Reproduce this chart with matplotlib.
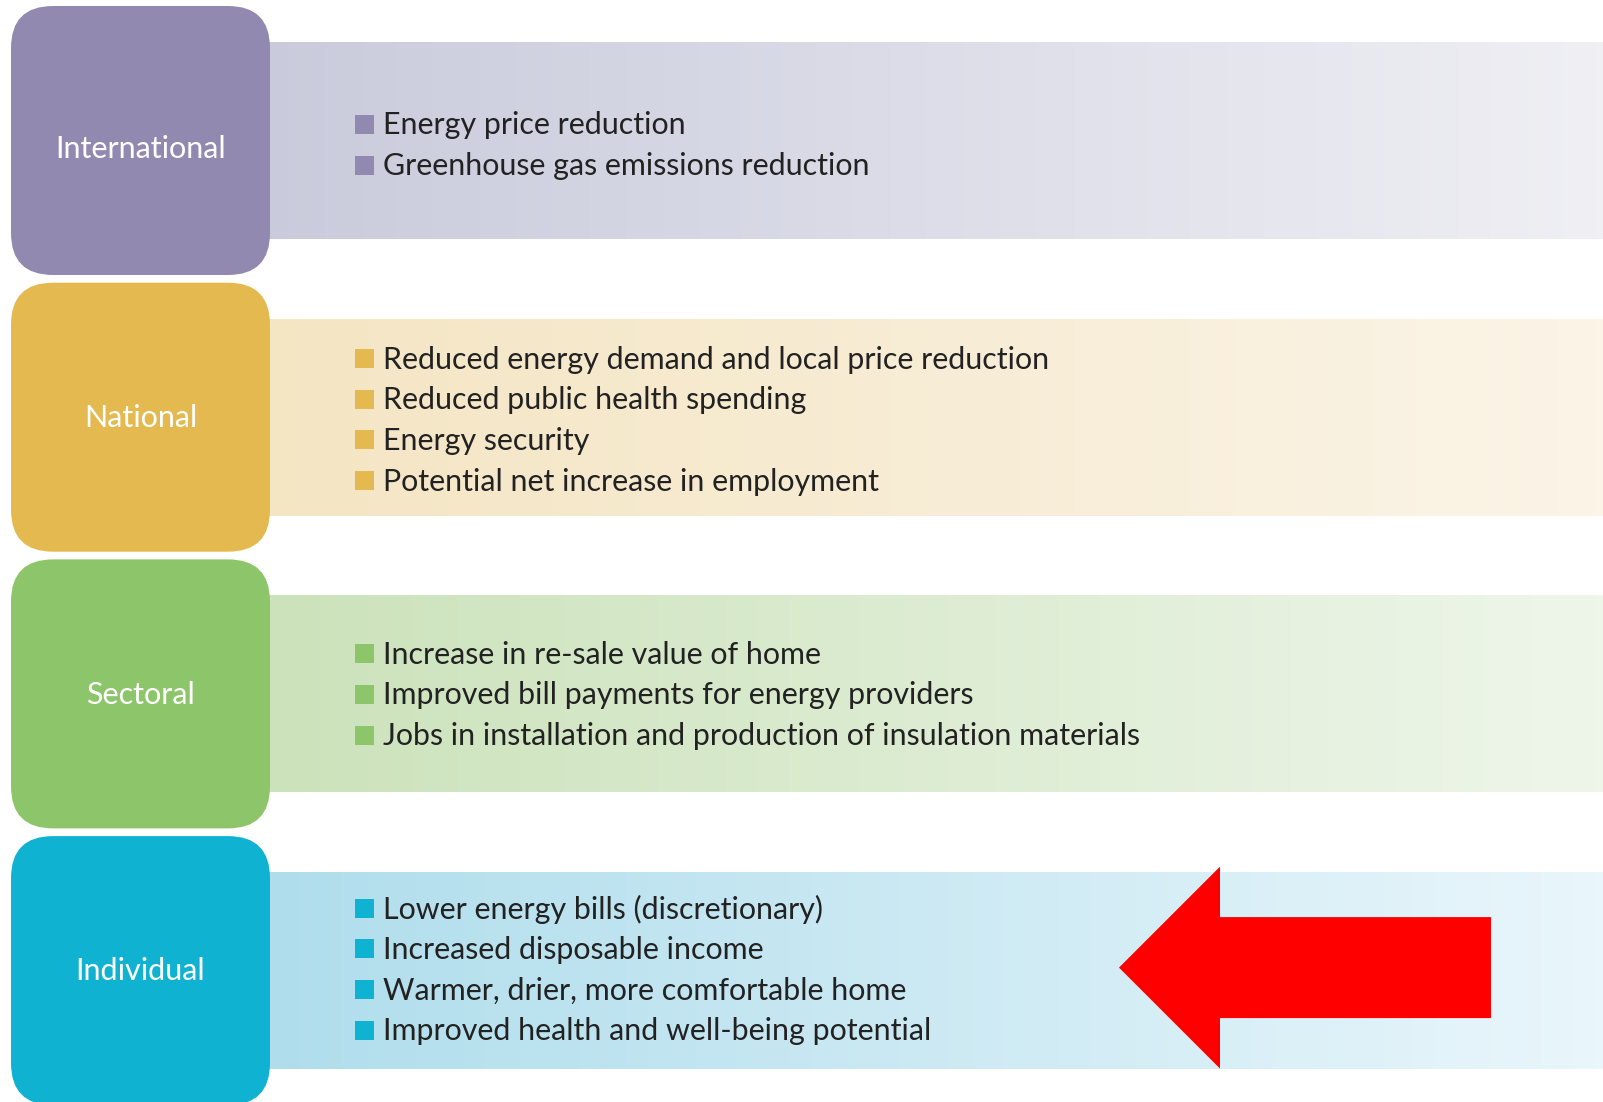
import numpy as np
import matplotlib
matplotlib.use("Agg")
from matplotlib import pyplot as plt
from matplotlib.patches import FancyBboxPatch, Rectangle, Polygon
from matplotlib.colors import LinearSegmentedColormap

# levels of the benefits diagram, top to bottom
levels = ["International", "National", "Sectoral", "Individual"]
box_colors = ["#9289B1", "#E4B94F", "#8DC66A", "#10B2D2"]
band_left = ["#C9CBDC", "#F4E5C3", "#CBE2BA", "#AFDDEC"]
band_right = ["#EFEFF4", "#FBF4E7", "#EEF6EA", "#E9F6FB"]
items = [
    ["Energy price reduction",
     "Greenhouse gas emissions reduction"],
    ["Reduced energy demand and local price reduction",
     "Reduced public health spending",
     "Energy security",
     "Potential net increase in employment"],
    ["Increase in re-sale value of home",
     "Improved bill payments for energy providers",
     "Jobs in installation and production of insulation materials"],
    ["Lower energy bills (discretionary)",
     "Increased disposable income",
     "Warmer, drier, more comfortable home",
     "Improved health and well-being potential"],
]
highlight = "Individual"

# layout in pixels
W, H = 1603, 1102
box_x, box_w, box_h = 11, 259, 269
row_step = 276.7
first_top = 6
band_off, band_h = 36, 197
line_gap = 40.7
text_top, text_step = 145.8, 274.8
label_shift = [8, 1, 1, 0]
bullet_x, bullet_size, text_x = 355, 19, 383

fig = plt.figure(figsize=(W / 100, H / 100), dpi=100)
ax = fig.add_axes([0, 0, 1, 1])
ax.set_xlim(0, W)
ax.set_ylim(H, 0)
ax.axis("off")

font = "Lato"
for i, name in enumerate(levels):
    top = first_top + i * row_step
    # gradient band
    cmap = LinearSegmentedColormap.from_list("b%d" % i, [band_left[i], band_right[i]])
    grad = np.linspace(0, 1, 256).reshape(1, -1)
    ax.imshow(grad, cmap=cmap, aspect="auto", interpolation="bilinear",
              extent=[box_x + box_w - 20, W, top + band_off + band_h, top + band_off], zorder=1)
    # rounded level box
    ax.add_patch(FancyBboxPatch((box_x, top), box_w, box_h,
                                boxstyle="round,pad=0,rounding_size=42",
                                fc=box_colors[i], ec="none", zorder=2))
    cy = top + box_h / 2 + label_shift[i]
    ax.text(box_x + box_w / 2, cy, name, color="white", fontsize=22, family=font,
            ha="center", va="center", zorder=3)
    # bullet list
    list_cy = text_top + i * text_step
    n = len(items[i])
    for j, it in enumerate(items[i]):
        y = list_cy + (j - (n - 1) / 2) * line_gap
        ax.add_patch(Rectangle((bullet_x, y - bullet_size / 2 - 1), bullet_size, bullet_size,
                               fc=box_colors[i], ec="none", zorder=3))
        ax.text(text_x, y, it, color="#222222", fontsize=21.9, family=font,
                ha="left", va="center", zorder=3)
    ax.set_xlim(0, W)
    ax.set_ylim(H, 0)

    if name == highlight:
        # red arrow pointing at the individual benefits
        tip_x, head_x, tail_x = 1119, 1220, 1491
        head_half, shaft_half = 101, 50.5
        ay = top + band_off + band_h / 2 - 3
        arrow = [(tip_x, ay), (head_x, ay - head_half), (head_x, ay - shaft_half),
                 (tail_x, ay - shaft_half), (tail_x, ay + shaft_half),
                 (head_x, ay + shaft_half), (head_x, ay + head_half)]
        ax.add_patch(Polygon(arrow, closed=True, fc="#FF0000", ec="none", zorder=4))

fig.savefig("out.png", dpi=100, facecolor="white")
